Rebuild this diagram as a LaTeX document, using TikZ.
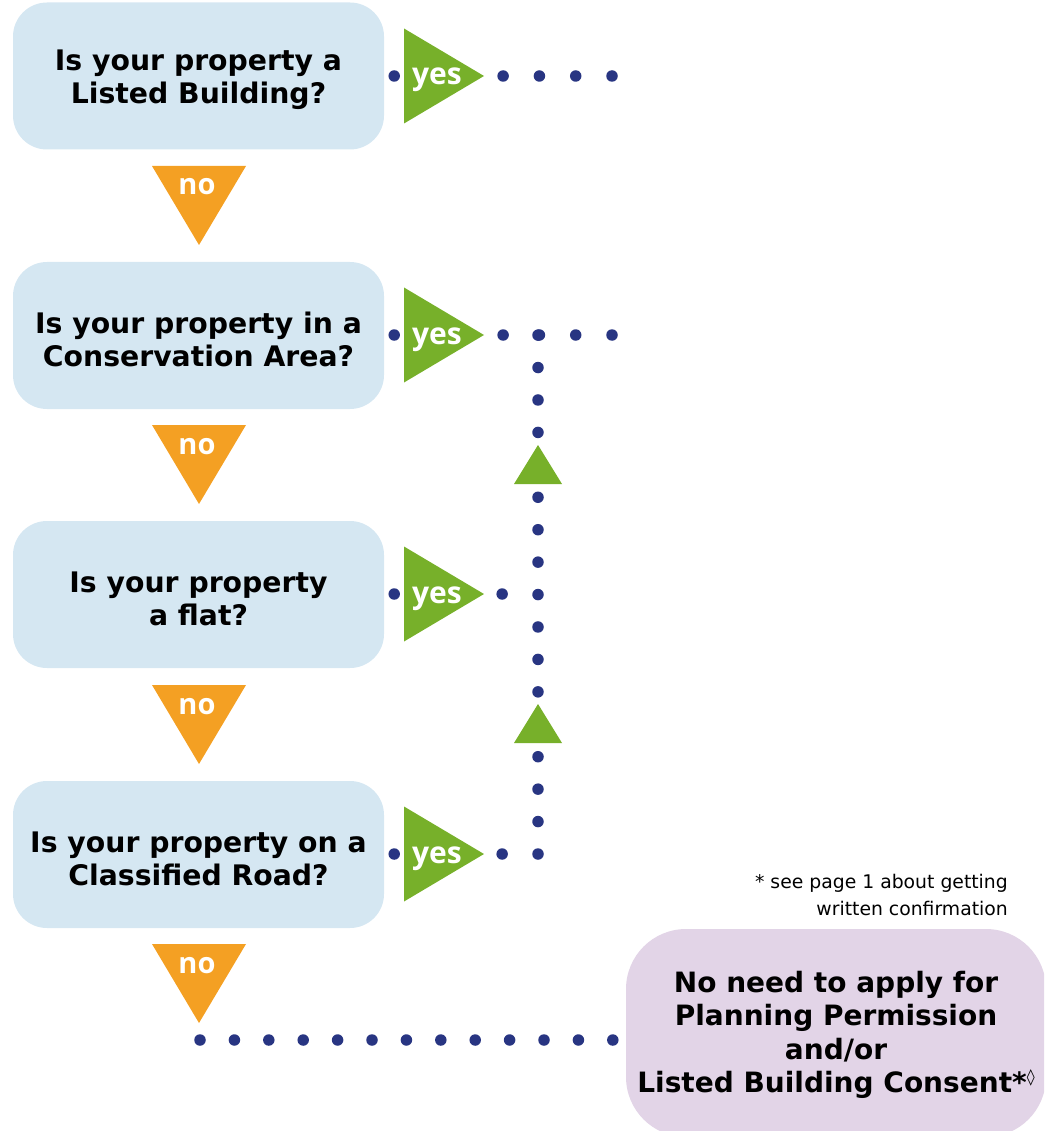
\documentclass[tikz,border=0pt]{standalone}
\usepackage{fontspec}
\setmainfont{DejaVu Sans}
\newfontfamily\yesfont{Open Sans}
\definecolor{qblue}{HTML}{D5E7F2}
\definecolor{noorange}{HTML}{F4A023}
\definecolor{yesgreen}{HTML}{77B02A}
\definecolor{navy}{HTML}{283582}
\definecolor{respurple}{HTML}{E2D4E7}
\begin{document}
\begin{tikzpicture}[x=1pt,y=-1pt,
  qbox/.style={fill=qblue, rounded corners=34pt, minimum width=371pt, minimum height=147pt, inner sep=0pt},
  qtext/.style={align=center, inner sep=0pt, font=\fontsize{28.3}{33}\selectfont\bfseries},
  result/.style={fill=respurple, rounded corners=60pt, minimum width=420pt, minimum height=208pt,
    align=center, inner sep=0pt, font=\fontsize{28}{33.5}\selectfont\bfseries},
  dotline/.style={draw=navy, line width=11.5pt, line cap=round, dash pattern={on 0pt off #1}},
  yeslabel/.style={text=white, font=\yesfont\fontsize{30}{30}\selectfont\bfseries, inner sep=0pt, anchor=base},
  nolabel/.style={text=white, font=\yesfont\fontsize{29}{29}\selectfont\bfseries, inner sep=0pt, anchor=base},
  yestri/.style={fill=yesgreen},
  notri/.style={fill=noorange},
  note/.style={align=right, inner sep=0pt, font=\fontsize{18.8}{27}\selectfont}]
\useasboundingbox (0,0) rectangle (1044,1131);
\clip (0,0) rectangle (1044,1131);

% question boxes
\node[qbox] (q1) at (198.5,76) {};
\node[qbox] (q2) at (198.5,335.5) {};
\node[qbox] (q3) at (198.5,594.5) {};
\node[qbox] (q4) at (198.5,854.5) {};
\node[qtext] (q1t) at ([yshift=-4pt]q1.center) {Is your property a\\Listed Building?};
\node[qtext] (q2t) at ([yshift=-4pt]q2.center) {Is your property in a\\Conservation Area?};
\node[qtext] (q3t) at ([yshift=-4pt]q3.center) {Is your property\\a flat?};
\node[qtext] (q4t) at ([yshift=-4pt]q4.center) {Is your property on a\\Classified Road?};

% result box
\node[result] (res) at (836,1033) {};
\node[result, fill=none, minimum width=0pt, minimum height=0pt] (rest) at ([yshift=-2pt]res.center) {No need to apply for\\Planning Permission\\and/or\\Listed Building Consent*\raisebox{0.7ex}{\fontsize{16}{16}\selectfont\mdseries ◊}};

% footnote
\node[note, anchor=east] (fn) at (1008,895) {* see page 1 about getting\\written confirmation};

% dotted connectors
\coordinate (r1a) at ([xshift=10pt]q1.east);
\coordinate (r1b) at (612,76);
\coordinate (r2a) at ([xshift=10pt]q2.east |- 0,335);
\coordinate (r2b) at (612,335);
\coordinate (r3a) at ([xshift=10pt]q3.east |- 0,594);
\coordinate (r3b) at (538,594);
\coordinate (r4a) at ([xshift=10pt]q4.east |- 0,854);
\coordinate (r4b) at (538,854);
\coordinate (b0) at (200,1040);
\coordinate (b1) at ([xshift=-13pt]res.west |- b0);

\draw[dotline=36.3pt] (r1a) -- (r1b);
\draw[dotline=36.3pt] (r2a) -- (r2b);
\draw[dotline=35.98pt] (r3a) -- (r3b);
\draw[dotline=35.98pt] (r4a) -- (r4b);
\draw[dotline=32.43pt] (r4b) -- (538,335);
\draw[dotline=34.4pt] (b0) -- (b1);

% up arrows on the vertical line
\fill[yestri] (514,484) -- (562,484) -- (538,445) -- cycle;
\fill[yestri] (514,743) -- (562,743) -- (538,704) -- cycle;

% yes triangles
\foreach \yy/\nm in {76/y1,335/y2,594/y3,854/y4}{
  \fill[yestri] (404,\yy-47.5) -- (404,\yy+47.5) -- (484,\yy) -- cycle;
  \node[yeslabel] (\nm) at (437,\yy+9) {yes};
}

% no triangles
\foreach \tt/\nm in {166/n1,425/n2,685/n3,944/n4}{
  \fill[notri] (152,\tt) -- (246,\tt) -- (199,\tt+79) -- cycle;
  \node[nolabel] (\nm) at (197,\tt+29) {no};
}
\end{tikzpicture}
\end{document}
